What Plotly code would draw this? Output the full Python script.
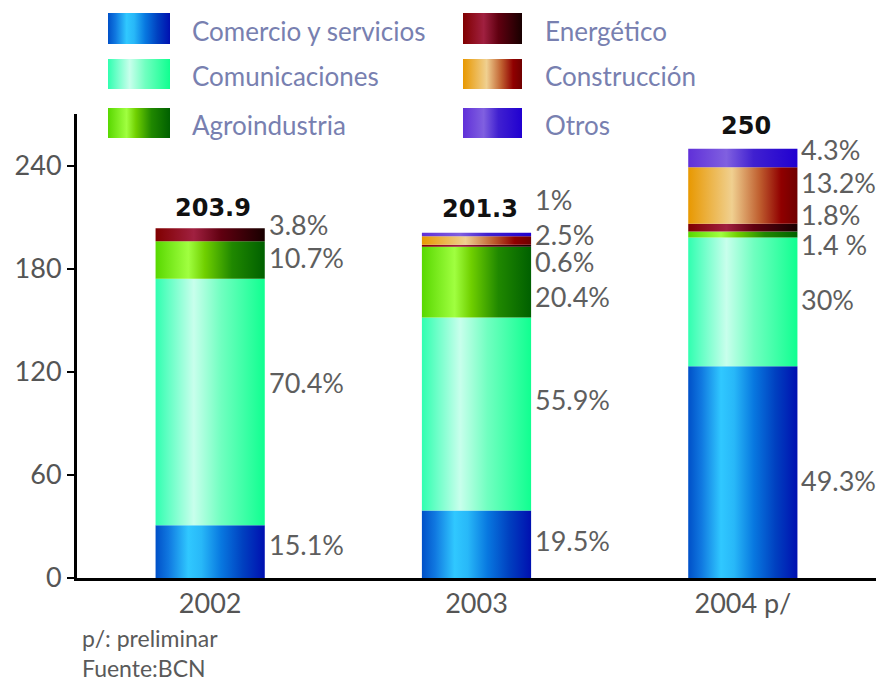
import plotly.graph_objects as go

# ---------------- data ----------------
years = ["2002", "2003", "2004 p/"]
totals = [203.9, 201.3, 250.0]
total_labels = ["203.9", "201.3", "250"]

series_names = ["Comercio y servicios", "Comunicaciones", "Agroindustria",
                "Energético", "Construcción", "Otros"]

comercio = [30.8, 39.3, 123.3]
comunicaciones = [143.5, 112.5, 75.0]
agroindustria = [21.8, 41.1, 3.5]
energetico = [7.7, 1.2, 4.5]
construccion = [0.0, 5.0, 33.0]
otros = [0.0, 2.0, 10.8]

pct_comercio = ["15.1%", "19.5%", "49.3%"]
pct_comunicaciones = ["70.4%", "55.9%", "30%"]
pct_agroindustria = ["10.7%", "20.4%", "1.4 %"]
pct_energetico = ["3.8%", "0.6%", "1.8%"]
pct_construccion = ["", "2.5%", "13.2%"]
pct_otros = ["", "1%", "4.3%"]

y_ticks = [0, 60, 120, 180, 240]

footer_lines = ["p/: preliminar", "Fuente:BCN"]

# ---------------- styling ----------------
series_values = [comercio, comunicaciones, agroindustria, energetico, construccion, otros]
series_pcts = [pct_comercio, pct_comunicaciones, pct_agroindustria,
               pct_energetico, pct_construccion, pct_otros]

gradients = [
    [[0, "#0050c8"], [0.12, "#1078e0"], [0.3, "#30c8ff"], [0.42, "#28b8f8"],
     [0.6, "#0878e0"], [0.8, "#0040c0"], [1, "#0010b0"]],
    [[0, "#30ffb0"], [0.35, "#c8ffec"], [0.6, "#70ffc0"], [1, "#10ff90"]],
    [[0, "#58d800"], [0.3, "#a0ff40"], [0.45, "#70d000"], [0.7, "#208800"], [1, "#006000"]],
    [[0, "#800000"], [0.35, "#a02040"], [0.6, "#600010"], [1, "#180000"]],
    [[0, "#e89800"], [0.4, "#f0d090"], [0.65, "#c06030"], [0.85, "#900000"], [1, "#700000"]],
    [[0, "#6030d8"], [0.35, "#8060e0"], [0.6, "#4020d0"], [1, "#2000d0"]],
]

# pixel nudges for the percentage labels (positive = up), per series per year
label_nudge = [
    [7, 4, -8],
    [19, 14, 2],
    [3, -14, -10],
    [10, -16, 13],
    [0, 6, 13],
    [0, 35, 8],
]
total_yshift = [4, 8, 7]

FONT = "Lato"
HALF_W = 0.205

fig = go.Figure()

# stacked bars as gradient-filled rectangles
base = [0.0] * len(years)
annotations = []
for s, (name, vals, pcts, grad) in enumerate(zip(series_names, series_values, series_pcts, gradients)):
    for i, v in enumerate(vals):
        if v <= 0:
            continue
        y0 = base[i]
        y1 = base[i] + v
        x0 = i - HALF_W
        x1 = i + HALF_W
        fig.add_trace(go.Scatter(
            x=[x0, x1, x1, x0, x0], y=[y0, y0, y1, y1, y0],
            mode="none", fill="toself",
            fillgradient=dict(type="horizontal", colorscale=grad),
            hoverinfo="skip", showlegend=False,
            xaxis="x", yaxis="y",
        ))
        annotations.append(dict(
            x=x1, y=(y0 + y1) / 2, xref="x", yref="y",
            text=pcts[i], showarrow=False, xanchor="left", yanchor="middle",
            xshift=2, yshift=label_nudge[s][i],
            font=dict(family=FONT, size=27, color="#5e5e5e"),
        ))
        base[i] = y1

# totals
for i, t in enumerate(total_labels):
    annotations.append(dict(
        x=i, y=base[i], xref="x", yref="y", text=t, showarrow=False,
        xanchor="center", yanchor="bottom", xshift=3, yshift=total_yshift[i],
        font=dict(family="DejaVu Sans", size=24, color="#111111", weight="bold"),
    ))

# page offset: the html body adds 8px margin around the figure
OFF = 8
W, H = 884 - OFF, 684 - OFF
# plot area in target (window) pixels
PX_L, PX_R, PX_T, PX_B = 77, 876, 10, 578
ML, MR, MT, MB = PX_L - OFF, (W + OFF) - PX_R, PX_T - OFF, (H + OFF) - PX_B
plot_h = PX_B - PX_T
main_top_px = 114
main_domain_top = (PX_B - main_top_px) / plot_h
leg_bottom_px = 145
leg_domain_bottom = (PX_B - leg_bottom_px) / plot_h

# custom legend (on a helper axis whose units are window pixels)
legend_cols_x = [(108, 170, 190), (463, 522, 543)]
legend_rows_y = [(13, 44), (59, 89), (108, 138)]
for k, name in enumerate(series_names):
    col = k // 3
    row = k % 3
    sx0, sx1, tx = legend_cols_x[col]
    sy0, sy1 = legend_rows_y[row]
    fig.add_trace(go.Scatter(
        x=[sx0, sx1, sx1, sx0, sx0], y=[sy0, sy0, sy1, sy1, sy0],
        mode="none", fill="toself",
        fillgradient=dict(type="horizontal", colorscale=gradients[k]),
        hoverinfo="skip", showlegend=False, xaxis="x2", yaxis="y2",
    ))
    annotations.append(dict(
        x=tx, y=(sy0 + sy1) / 2, xref="x2", yref="y2", text=name,
        showarrow=False, xanchor="left", yanchor="middle", yshift=-2,
        font=dict(family=FONT, size=26, color="#7880b0"),
    ))

# footer notes (single block)
footer_center_px = 653
annotations.append(dict(
    x=(80 - PX_L) / (PX_R - PX_L), y=(PX_B - footer_center_px) / plot_h,
    xref="paper", yref="paper", text="<br>".join(footer_lines),
    showarrow=False, xanchor="left", yanchor="middle", align="left",
    font=dict(family=FONT, size=23, color="#5a5a5a"),
))

fig.update_layout(
    width=W, height=H,
    margin=dict(l=ML, r=MR, t=MT, b=MB, pad=0, autoexpand=False),
    paper_bgcolor="white", plot_bgcolor="white",
    showlegend=False,
    xaxis=dict(
        domain=[0, 1], range=[-0.5, 2.5],
        tickvals=list(range(len(years))), ticktext=years,
        showline=True, linecolor="black", linewidth=3,
        ticks="", showgrid=False, zeroline=False,
        tickfont=dict(family=FONT, size=27, color="#555555"),
        anchor="y", fixedrange=True,
    ),
    yaxis=dict(
        domain=[0, main_domain_top], range=[0, 270.3],
        tickvals=y_ticks,
        showline=True, linecolor="black", linewidth=3,
        ticks="outside", ticklen=7, tickwidth=2, tickcolor="black",
        showgrid=False, zeroline=False,
        tickfont=dict(family=FONT, size=27, color="#555555"),
        anchor="x", fixedrange=True,
    ),
    xaxis2=dict(domain=[0, 1], range=[PX_L, PX_R], visible=False, anchor="y2", fixedrange=True),
    yaxis2=dict(domain=[leg_domain_bottom, 1], range=[leg_bottom_px, PX_T], visible=False,
                anchor="x2", fixedrange=True),
    annotations=annotations,
)

fig.write_html("out.html")
